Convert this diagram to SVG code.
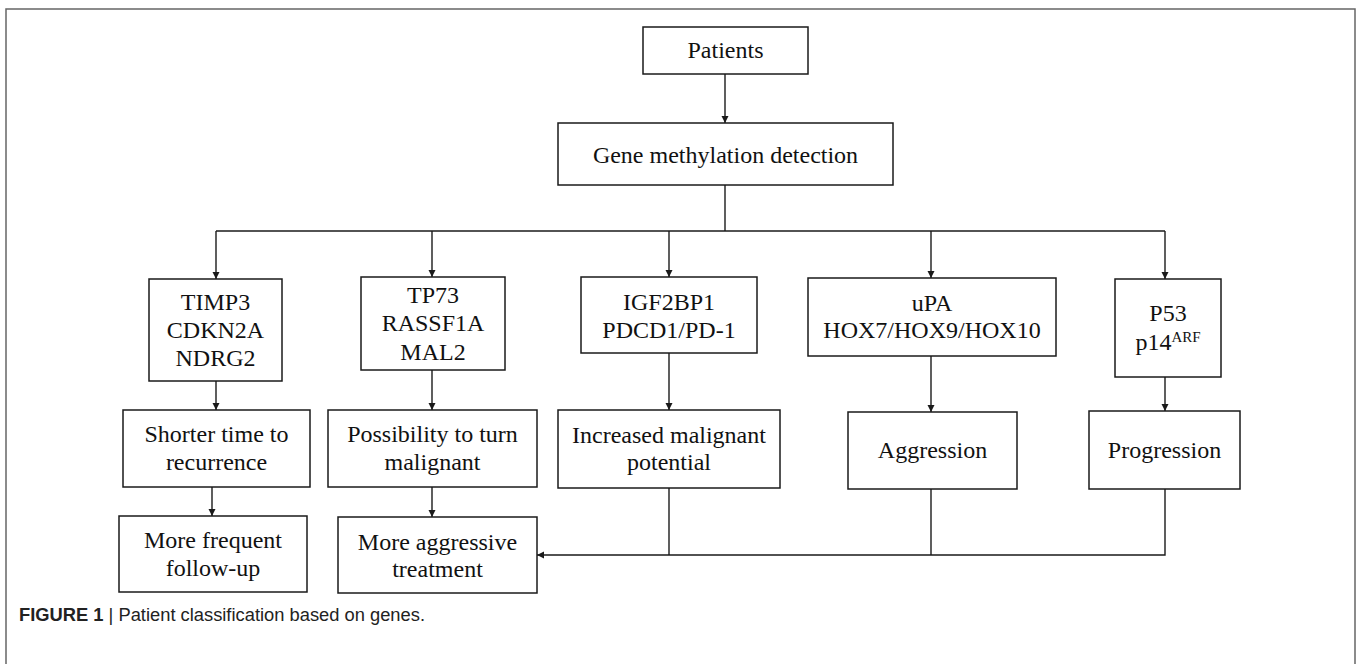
<svg xmlns="http://www.w3.org/2000/svg" width="1357" height="664" viewBox="0 0 1357 664">
<style>
.box{fill:#fff;stroke:#1a1a1a;stroke-width:1.5}
.t{font-family:"Liberation Serif","Times New Roman",serif;font-size:24px;fill:#111;text-anchor:middle}
.ln{fill:none;stroke:#1a1a1a;stroke-width:1.4}
.frame{fill:none;stroke:#666;stroke-width:1.5}
.cap{font-family:"Liberation Sans",Arial,sans-serif;font-size:17.5px;fill:#222}
</style>
<defs>
<marker id="ah" viewBox="0 0 10 10" refX="10" refY="5" markerWidth="7" markerHeight="8" markerUnits="userSpaceOnUse" orient="auto">
<path d="M0,0 L10,5 L0,10 z" fill="#1a1a1a"/>
</marker>
</defs>
<rect width="1357" height="664" fill="#fff"/>
<path class="frame" d="M6,672 L6,9 L1355,9 L1355,672"/>
<g id="connectors">
<path class="ln" d="M725,74 L725,123" marker-end="url(#ah)"/>
<path class="ln" d="M725,185 L725,231"/>
<path class="ln" d="M216,231 L1165,231"/>
<path class="ln" d="M216,231 L216,279" marker-end="url(#ah)"/>
<path class="ln" d="M432,231 L432,277" marker-end="url(#ah)"/>
<path class="ln" d="M669,231 L669,277" marker-end="url(#ah)"/>
<path class="ln" d="M931,231 L931,278" marker-end="url(#ah)"/>
<path class="ln" d="M1165,231 L1165,279" marker-end="url(#ah)"/>
<path class="ln" d="M216,381 L216,410" marker-end="url(#ah)"/>
<path class="ln" d="M432,370 L432,410" marker-end="url(#ah)"/>
<path class="ln" d="M669,353 L669,410" marker-end="url(#ah)"/>
<path class="ln" d="M931,356 L931,412" marker-end="url(#ah)"/>
<path class="ln" d="M1165,377 L1165,411" marker-end="url(#ah)"/>
<path class="ln" d="M212,487 L212,516" marker-end="url(#ah)"/>
<path class="ln" d="M432,487 L432,517" marker-end="url(#ah)"/>
<path class="ln" d="M669,488 L669,555"/>
<path class="ln" d="M931,489 L931,555"/>
<path class="ln" d="M1165,489 L1165,555 L537,555" marker-end="url(#ah)"/>
</g>
<g id="patients"><rect class="box" x="643" y="27" width="165" height="47"/><text class="t" x="725.5" y="58">Patients</text></g>
<g id="gene-methylation"><rect class="box" x="558" y="123" width="335" height="62"/><text class="t" x="725.5" y="163">Gene methylation detection</text></g>
<g id="timp3"><rect class="box" x="149" y="279" width="133" height="102"/><text class="t" x="215.5" y="310">TIMP3</text><text class="t" x="215.5" y="338">CDKN2A</text><text class="t" x="215.5" y="366">NDRG2</text></g>
<g id="tp73"><rect class="box" x="361" y="277" width="144" height="93"/><text class="t" x="433" y="303">TP73</text><text class="t" x="433" y="331">RASSF1A</text><text class="t" x="433" y="360">MAL2</text></g>
<g id="igf2bp1"><rect class="box" x="581" y="277" width="176" height="76"/><text class="t" x="669" y="310">IGF2BP1</text><text class="t" x="669" y="338">PDCD1/PD-1</text></g>
<g id="upa"><rect class="box" x="808" y="278" width="248" height="78"/><text class="t" x="932" y="311">uPA</text><text class="t" x="932" y="338">HOX7/HOX9/HOX10</text></g>
<g id="p53"><rect class="box" x="1115" y="279" width="106" height="98"/><text class="t" x="1168" y="321">P53</text><text class="t" x="1168" y="350">p14<tspan font-size="15" dy="-8">ARF</tspan></text></g>
<g id="shorter"><rect class="box" x="123" y="410" width="187" height="77"/><text class="t" x="216.5" y="442">Shorter time to</text><text class="t" x="216.5" y="470">recurrence</text></g>
<g id="possibility"><rect class="box" x="328" y="410" width="209" height="77"/><text class="t" x="432.5" y="442">Possibility to turn</text><text class="t" x="432.5" y="470">malignant</text></g>
<g id="increased"><rect class="box" x="558" y="410" width="222" height="78"/><text class="t" x="669" y="443">Increased malignant</text><text class="t" x="669" y="470">potential</text></g>
<g id="aggression"><rect class="box" x="848" y="412" width="169" height="77"/><text class="t" x="932.5" y="458">Aggression</text></g>
<g id="progression"><rect class="box" x="1089" y="411" width="151" height="78"/><text class="t" x="1164.5" y="458">Progression</text></g>
<g id="frequent"><rect class="box" x="119" y="516" width="188" height="76"/><text class="t" x="213" y="548">More frequent</text><text class="t" x="213" y="576">follow-up</text></g>
<g id="aggressive"><rect class="box" x="338" y="517" width="199" height="76"/><text class="t" x="437.5" y="550">More aggressive</text><text class="t" x="437.5" y="577">treatment</text></g>
<text class="cap" x="19" y="621" textLength="406" lengthAdjust="spacingAndGlyphs"><tspan font-weight="bold">FIGURE 1</tspan> | Patient classification based on genes.</text>
</svg>
